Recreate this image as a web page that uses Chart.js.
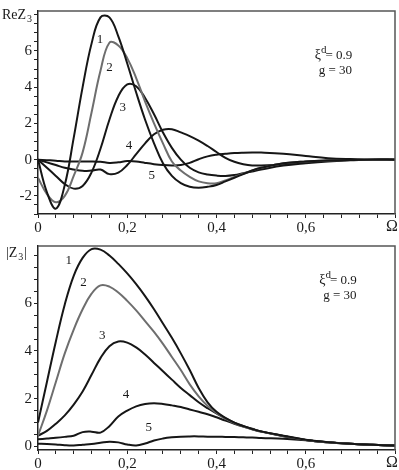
<!DOCTYPE html>
<html><head><meta charset="utf-8">
<script src="https://cdn.jsdelivr.net/npm/chart.js@4/dist/chart.umd.min.js"></script>
<style>
html,body{margin:0;padding:0;background:#fff;overflow:hidden;}
.box{position:absolute;left:0;width:399px;height:235px;}
#b1{top:0}#b2{top:235px}
</style></head><body>
<div class="box" id="b1"><canvas id="c1"></canvas></div>
<div class="box" id="b2"><canvas id="c2"></canvas></div>
<script>
// ---- data ----
const omega = [0,0.02,0.04,0.06,0.08,0.10,0.12,0.14,0.16,0.18,0.20,0.22,0.24,0.26,0.28,0.30,0.32,0.34,0.36,0.38,0.40,0.42,0.44,0.46,0.48,0.50,0.55,0.60,0.65,0.70,0.75,0.80];
const curveNames = ['1','2','3','4','5'];
// Re Z3
const re1 = [0,-1.8,-2.7,-1.4,1.2,4.0,6.4,7.85,7.85,6.8,5.3,3.7,2.2,0.9,-0.2,-0.9,-1.3,-1.5,-1.55,-1.5,-1.4,-1.2,-1.0,-0.8,-0.6,-0.45,-0.2,-0.1,-0.05,-0.02,0,0];
const re2 = [-1.0,-1.9,-2.35,-2.0,-0.9,0.4,2.6,4.9,6.45,6.3,5.6,4.5,3.2,2.0,0.9,-0.1,-0.6,-0.95,-1.2,-1.3,-1.3,-1.15,-0.95,-0.78,-0.6,-0.45,-0.2,-0.1,-0.05,-0.02,0,0];
const re3 = [0,-0.45,-0.9,-1.35,-1.6,-1.45,-0.7,0.6,2.2,3.5,4.15,4.05,3.4,2.5,1.5,0.65,0.0,-0.45,-0.7,-0.82,-0.88,-0.9,-0.85,-0.75,-0.65,-0.55,-0.33,-0.2,-0.1,-0.04,0,0];
const re4 = [0,-0.15,-0.3,-0.45,-0.55,-0.62,-0.6,-0.55,-0.8,-0.72,-0.3,0.3,0.9,1.4,1.65,1.68,1.5,1.3,1.05,0.75,0.42,0.1,-0.12,-0.25,-0.32,-0.32,-0.25,-0.12,-0.05,-0.02,0,0];
const re5 = [0,-0.03,-0.06,-0.1,-0.1,-0.1,-0.1,-0.12,-0.18,-0.15,-0.08,-0.1,-0.18,-0.25,-0.3,-0.32,-0.3,-0.18,0.02,0.18,0.27,0.32,0.36,0.38,0.39,0.39,0.33,0.2,0.08,0.03,0.01,0];
// |Z3|
const ab1 = [1.0,2.7,4.4,5.95,7.15,7.9,8.27,8.25,8.0,7.65,7.25,6.8,6.3,5.75,5.15,4.55,3.9,3.2,2.45,1.85,1.45,1.2,1.0,0.85,0.73,0.63,0.45,0.28,0.18,0.11,0.07,0.04];
const ab2 = [0.45,1.5,2.7,3.9,4.9,5.75,6.4,6.75,6.7,6.45,6.1,5.7,5.25,4.8,4.3,3.75,3.2,2.6,2.1,1.7,1.4,1.17,0.98,0.83,0.72,0.62,0.44,0.27,0.17,0.11,0.07,0.04];
const ab3 = [0.45,0.65,0.95,1.3,1.75,2.3,3.0,3.7,4.2,4.4,4.35,4.15,3.85,3.5,3.15,2.8,2.45,2.15,1.85,1.6,1.38,1.17,1.0,0.86,0.74,0.63,0.44,0.27,0.17,0.11,0.07,0.04];
const ab4 = [0.3,0.33,0.36,0.4,0.45,0.6,0.62,0.58,0.85,1.25,1.5,1.68,1.78,1.81,1.78,1.72,1.65,1.55,1.45,1.35,1.22,1.08,0.95,0.83,0.72,0.62,0.43,0.27,0.17,0.11,0.07,0.04];
const ab5 = [0.11,0.1,0.08,0.05,0.04,0.07,0.1,0.15,0.2,0.17,0.08,0.04,0.12,0.25,0.33,0.38,0.41,0.42,0.42,0.41,0.41,0.4,0.39,0.38,0.37,0.35,0.32,0.26,0.17,0.11,0.07,0.04];
const xTickLabels = ['0','0,2','0,4','0,6','Ω'];
const yTickLabels = ['-2','0','2','4','6'];

// ---- drawing ----
const FONT = '"Liberation Serif", "Times New Roman", serif';
const colors = ['#161616','#6e6e6e','#161616','#161616','#161616'];

function ds(arr, i){
  return {data: omega.map((x,k)=>({x:x,y:arr[k]})), borderColor: colors[i], borderWidth: 2,
    pointRadius:0, tension:0.4, fill:false};
}
function stepTicks(min, max, step){
  const out = [];
  const n0 = Math.ceil(min/step - 1e-9), n1 = Math.floor(max/step + 1e-9);
  for (let n = n0; n <= n1; n++) out.push({value: Math.round(n*step*1e6)/1e6});
  return out;
}

function makeChart(id, series, cfg){
  const deco = {
    id:'deco',
    afterDraw(chart){
      const ctx = chart.ctx, a = chart.chartArea, xs = chart.scales.x, ys = chart.scales.y;
      ctx.save();
      ctx.strokeStyle = '#555'; ctx.lineWidth = 1.5;
      ctx.beginPath(); ctx.moveTo(a.left, a.top); ctx.lineTo(a.right, a.top); ctx.lineTo(a.right, a.bottom); ctx.stroke();
      ctx.fillStyle = '#1a1a1a';
      ctx.textBaseline = 'alphabetic'; ctx.textAlign = 'left';
      ctx.font = '14px ' + FONT;
      ctx.fillText(cfg.title[0], cfg.titlePos[0], cfg.titlePos[1]);
      let w = ctx.measureText(cfg.title[0]).width;
      ctx.font = '10px ' + FONT;
      ctx.fillText(cfg.title[1], cfg.titlePos[0] + w + 1, cfg.titlePos[1] + 3);
      let w2 = ctx.measureText(cfg.title[1]).width;
      if (cfg.title[2]) { ctx.font = '14px ' + FONT; ctx.fillText(cfg.title[2], cfg.titlePos[0] + w + w2 + 2, cfg.titlePos[1]); }
      ctx.font = '16px ' + FONT; ctx.textAlign = 'center'; ctx.textBaseline = 'top';
      ctx.fillText(xTickLabels[4], xs.getPixelForValue(0.8) - 3, a.bottom + 5);
      ctx.font = '13px ' + FONT; ctx.textBaseline = 'middle';
      cfg.nums.forEach((p,i)=>{ ctx.fillText(curveNames[i], xs.getPixelForValue(p[0]), ys.getPixelForValue(p[1])); });
      const nx = xs.getPixelForValue(cfg.note[0]), ny = ys.getPixelForValue(cfg.note[1]);
      ctx.textAlign = 'left'; ctx.textBaseline = 'alphabetic';
      ctx.font = '14px ' + FONT;
      ctx.fillText('ξ', nx, ny);
      let wx = ctx.measureText('ξ').width;
      ctx.font = '11px ' + FONT;
      ctx.fillText('d', nx + wx, ny - 6);
      let wd = ctx.measureText('d').width;
      ctx.font = '13px ' + FONT;
      ctx.fillText('= 0.9', nx + wx + wd - 1, ny);
      ctx.fillText('g = 30', nx + 4, ny + 15);
      ctx.restore();
    }
  };
  return new Chart(document.getElementById(id), {
    type:'line',
    data:{datasets: series.map((s,i)=>ds(s,i))},
    options:{
      responsive:true, maintainAspectRatio:false, animation:false,
      layout:{padding:{left:0,right:4,top:cfg.padTop,bottom:0}},
      plugins:{legend:{display:false}, tooltip:{enabled:false}},
      scales:{
        x:{type:'linear', min:0, max:0.8,
          afterFit(s){ s.height = cfg.xh; },
          afterBuildTicks(s){ s.ticks = stepTicks(0, 0.8, 0.04); },
          border:{display:true, color:'#222', width:1.5},
          grid:{drawOnChartArea:false, drawTicks:true, tickLength:4, color:'#222', lineWidth:1},
          ticks:{maxTicksLimit:100, autoSkip:false, maxRotation:0, padding:1, color:'#1a1a1a',
            font:{family:FONT, size:15},
            callback(v){ const r = Math.round(v/0.2); if (Math.abs(v/0.2 - r) < 1e-6 && r < 4) return xTickLabels[r]; return ''; }}
        },
        y:{type:'linear', min:cfg.ymin, max:cfg.ymax,
          afterFit(s){ s.width = 38; },
          afterBuildTicks(s){ s.ticks = stepTicks(cfg.ymin, cfg.ymax, 0.5); },
          border:{display:true, color:'#222', width:1.5},
          grid:{drawOnChartArea:false, drawTicks:true, tickLength:4, color:'#222', lineWidth:1},
          ticks:{maxTicksLimit:100, autoSkip:false, padding:2, color:'#1a1a1a',
            font:{family:FONT, size:15},
            callback(v){ const s = String(Math.round(v)); return (Math.abs(v - Math.round(v)) < 1e-6 && yTickLabels.includes(s)) ? s : ''; }}
        }
      }
    },
    plugins:[deco]
  });
}

makeChart('c1', [re1,re2,re3,re4,re5], {
  ymin:-3, ymax:8.2, padTop:3, xh:21,
  title:['ReZ','3',''], titlePos:[2,19],
  nums:[[0.139,6.6],[0.16,5.1],[0.19,2.86],[0.204,0.8],[0.255,-0.9]],
  note:[0.62,5.55]
});
makeChart('c2', [ab1,ab2,ab3,ab4,ab5], {
  ymin:-0.15, ymax:8.4, padTop:5, xh:20,
  title:['|Z','3','|'], titlePos:[6,22],
  nums:[[0.069,7.8],[0.102,6.86],[0.144,4.65],[0.197,2.16],[0.248,0.78]],
  note:[0.63,6.8]
});
</script>
</body></html>
